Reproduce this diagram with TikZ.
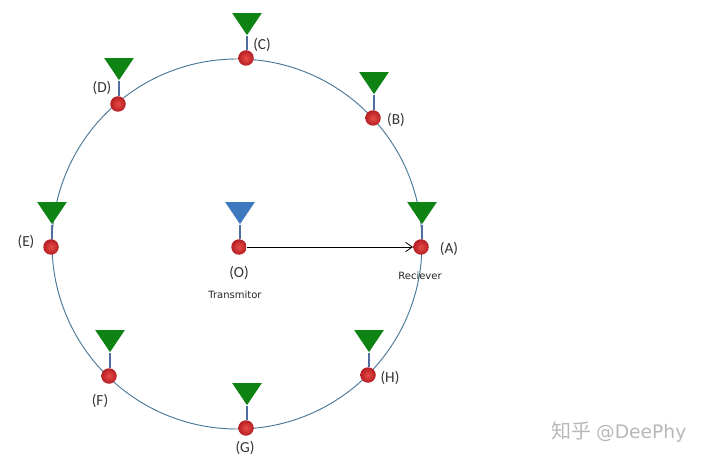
\documentclass[tikz,border=0pt]{standalone}
\usepackage{fontspec}
\setmainfont{Carlito}
\newfontfamily\smallfont{DejaVu Sans}
\newfontfamily\cjkfont{Noto Sans CJK SC}
\usepackage{tikz}
\usetikzlibrary{arrows.meta,shapes.geometric,shadings}
\definecolor{ringblue}{RGB}{74,120,150}
\definecolor{stemblue}{RGB}{79,110,160}
\definecolor{hornblue}{RGB}{62,120,190}
\definecolor{horngreen}{RGB}{15,130,20}
\definecolor{ballred}{RGB}{180,30,35}
\definecolor{balllight}{RGB}{232,75,70}
\tikzset{
  ball/.style={circle,inner sep=0pt,minimum size=15.5*0.75pt,inner color=balllight,outer color=ballred,draw=none},
  horn/.style={isosceles triangle,isosceles triangle apex angle=68,shape border rotate=270,inner sep=0pt,minimum height=22*0.75pt,fill=#1},
  stem/.style={stemblue,line width=1.3pt},
  lbl/.style={font=\fontsize{11.5pt}{13pt}\selectfont,text=black!80,inner sep=0pt},
  caption/.style={font=\smallfont\fontsize{7.5pt}{9pt}\selectfont,text=black!85,inner sep=0pt}
}
\begin{document}
\begin{tikzpicture}[x=0.75pt,y=-0.75pt]
\useasboundingbox (0,0) rectangle (706,463);

\node[circle,draw=ringblue,line width=0.7pt,minimum width=370*0.75pt,inner sep=0pt] (ring) at (237,244) {};

\foreach \nm/\xx/\yy/\hx/\hy/\lx/\ly in {
  A/421/247/422/210/449/249,
  B/373/118/374/80/396/120,
  C/246/58/247/21/262/45,
  D/118/104/119/66/102/88,
  E/51/247/52/210/26/242,
  F/109/376/110/338/100/401,
  G/246/428/247/391/245/448,
  H/368/375/369/338/390/378}{
  \node[horn=horngreen] (\nm horn) at (\hx,\hy) {};
  \node[ball] (\nm) at (\xx,\yy) {};
  \draw[stem] (\nm horn.apex) -- (\nm horn.apex |- \nm.north);
  \node[lbl] (\nm label) at (\lx,\ly) {(\nm)};
}

\node[horn=hornblue] (Ohorn) at (240,210) {};
\node[ball] (O) at (239,247) {};
\draw[stem] (Ohorn.apex) -- (Ohorn.apex |- O.north);
\node[lbl] (Olabel) at (239,273) {(O)};

\draw[line width=0.6pt,-{Straight Barb[length=5pt,width=7pt]}] (O.east) -- (A.west);

\node[caption] (tx) at (235,295) {Transmitor};
\node[caption] (rx) at (420,276) {Reciever};

\node[inner sep=0pt,text=black!28,font=\fontsize{15pt}{16pt}\selectfont] (mark) at (619,432) {{\cjkfont 知乎} {\smallfont\fontsize{14pt}{16pt}\selectfont @DeePhy}};
\end{tikzpicture}
\end{document}
